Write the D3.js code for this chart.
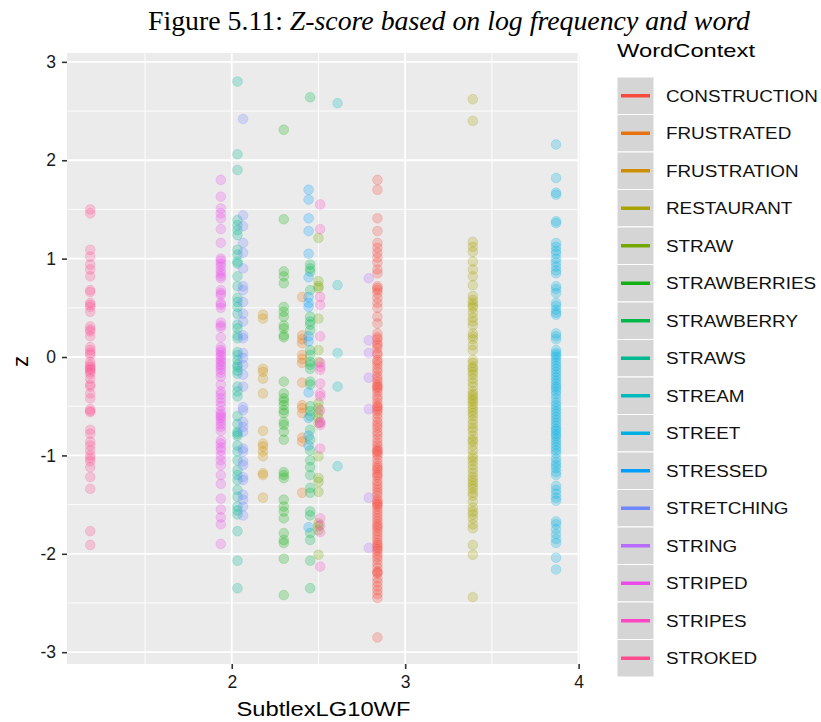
<!DOCTYPE html>
<html>
<head>
<meta charset="utf-8">
<script src="https://cdn.jsdelivr.net/npm/d3@7"></script>
<style>
  html, body { margin: 0; padding: 0; background: #ffffff; }
  svg { display: block; }
</style>
</head>
<body>
<svg id="chart" width="821" height="722"></svg>
<script>
// Word categories, in legend order, with their log10 frequency (x position)
const words = ["CONSTRUCTION","FRUSTRATED","FRUSTRATION","RESTAURANT","STRAW","STRAWBERRIES",
  "STRAWBERRY","STRAWS","STREAM","STREET","STRESSED","STRETCHING","STRING","STRIPED","STRIPES","STROKED"];
const wordFreq = [2.84, 2.406, 2.18, 3.39, 2.50, 2.30, 2.452, 2.033, 2.61, 3.87, 2.443, 2.065, 2.79, 1.937, 2.51, 1.184];
const wordColors = ["#F8493D","#E8720C","#CF8E00","#A8A300","#74A800","#12B012","#00B84A","#00B98F",
  "#00BABD","#00B0E4","#009EFF","#6E86FF","#B76BFF","#EC4BEC","#FF47C4","#FF4A8E"];

// z-scores per word
const zConstruction = [1.80,1.70,1.41,1.28,1.16,1.11,1.06,1.01,0.96,0.89,0.85,0.72,0.70,0.68,0.65,0.60,0.55,0.50,
  0.41,0.34,0.24,0.20,0.18,0.14,0.12,0.09,0.04,0.02,-0.03,-0.05,-0.08,-0.12,-0.15,-0.19,-0.22,-0.25,-0.28,-0.30,
  -0.31,-0.33,-0.36,-0.40,-0.43,-0.47,-0.50,-0.51,-0.53,-0.55,-0.58,-0.62,-0.66,-0.69,-0.72,-0.76,-0.79,-0.83,
  -0.87,-0.90,-0.93,-0.95,-0.96,-0.98,-1.00,-1.04,-1.08,-1.11,-1.13,-1.15,-1.18,-1.20,-1.22,-1.26,-1.29,-1.32,
  -1.35,-1.38,-1.41,-1.45,-1.47,-1.49,-1.50,-1.52,-1.55,-1.58,-1.61,-1.64,-1.67,-1.70,-1.72,-1.74,-1.77,-1.80,
  -1.83,-1.86,-1.89,-1.91,-1.93,-1.95,-1.97,-2.00,-2.03,-2.06,-2.10,-2.14,-2.18,-2.19,-2.20,-2.25,-2.29,-2.33,
  -2.37,-2.41,-2.45,-2.85];
const zFrustrated = [0.61,0.22,0.18,0.14,0.02,-0.02,-0.06,-0.26,-0.49,-0.52,-0.57,-0.82,-0.86,-1.38];
const zFrustration = [0.43,0.39,-0.12,-0.15,-0.22,-0.37,-0.75,-0.88,-0.91,-0.96,-1.01,-1.18,-1.20,-1.43];
const zRestaurant = [2.62,2.40,1.17,1.12,1.07,0.97,0.89,0.82,0.73,0.62,0.58,0.55,0.52,0.50,0.45,0.40,0.36,0.32,
  0.24,0.21,0.18,0.12,0.07,-0.03,-0.06,-0.10,-0.12,-0.15,-0.18,-0.22,-0.26,-0.30,-0.35,-0.38,-0.40,-0.43,-0.45,
  -0.48,-0.51,-0.54,-0.57,-0.60,-0.64,-0.68,-0.72,-0.75,-0.80,-0.84,-0.86,-0.90,-0.95,-1.00,-1.03,-1.06,-1.10,
  -1.14,-1.18,-1.22,-1.25,-1.28,-1.31,-1.34,-1.38,-1.41,-1.47,-1.53,-1.57,-1.60,-1.64,-1.70,-1.74,-1.91,-2.01,-2.44];
const zStraw = [1.21,0.77,0.72,0.70,0.39,0.07,-0.05,-0.47,-0.52,-0.57,-0.62,-0.67,-1.01,-1.23,-1.27,-1.37,-1.69,
  -1.72,-1.76,-2.01];
const zStrawberries = [2.31,1.40,0.87,0.82,0.75,0.51,0.46,0.41,0.32,0.29,0.22,0.20,-0.25,-0.37,-0.42,-0.45,-0.49,
  -0.54,-0.57,-0.66,-0.69,-0.76,-0.84,-1.17,-1.20,-1.23,-1.45,-1.52,-1.57,-1.64,-1.79,-1.86,-1.89,-2.05,-2.42];
const zStrawberry = [2.64,0.94,0.90,0.87,0.68,0.41,0.36,0.33,0.27,0.07,0.02,-0.05,-0.08,-0.12,-0.25,-0.28,-0.50,
  -0.55,-0.60,-0.74,-0.84,-0.95,-1.05,-1.12,-1.20,-1.33,-1.38,-1.57,-1.61,-1.79,-1.86,-2.07,-2.35];
const zStraws = [2.80,2.06,1.90,1.39,1.34,1.29,1.24,1.09,1.04,0.97,0.95,0.82,0.72,0.60,0.56,0.51,0.44,0.33,0.29,
  0.22,0.19,0.05,0.02,-0.03,-0.08,-0.10,-0.14,-0.17,-0.30,-0.35,-0.40,-0.60,-0.68,-0.76,-0.78,-0.80,-0.90,-0.96,
  -1.05,-1.15,-1.20,-1.25,-1.35,-1.42,-1.52,-1.56,-1.60,-1.77,-2.07,-2.35];
const zStream = [2.58,0.73,0.04,-0.30,-1.11];
const zStreet = [2.16,1.82,1.67,1.65,1.38,1.36,1.16,1.12,1.08,1.05,1.00,0.96,0.92,0.88,0.85,0.72,0.69,0.65,0.55,
  0.52,0.48,0.45,0.43,0.24,0.21,0.18,0.07,0.04,0.02,0.00,-0.03,-0.06,-0.09,-0.12,-0.15,-0.18,-0.21,-0.24,-0.27,
  -0.30,-0.32,-0.35,-0.38,-0.42,-0.46,-0.49,-0.52,-0.55,-0.58,-0.61,-0.64,-0.67,-0.70,-0.73,-0.75,-0.78,-0.80,
  -0.83,-0.86,-0.89,-0.92,-0.95,-0.98,-1.03,-1.07,-1.10,-1.13,-1.17,-1.20,-1.31,-1.35,-1.39,-1.43,-1.46,-1.67,
  -1.70,-1.75,-1.80,-1.85,-1.89,-2.04,-2.16];
const zStressed = [1.70,1.60,1.41,1.28,1.05,0.81,0.61,0.55,0.51,0.21,0.16,-0.36,-0.62,-0.80,-0.90,-1.73];
const zStretching = [2.42,1.44,1.33,1.16,1.06,0.90,0.72,0.68,0.56,0.44,0.36,0.22,0.19,0.04,-0.01,-0.08,-0.18,
  -0.30,-0.51,-0.54,-0.66,-0.71,-0.76,-0.93,-0.96,-1.06,-1.10,-1.22,-1.25,-1.40,-1.45,-1.52,-1.61];
const zString = [0.80,0.17,0.04,-0.21,-0.53,-1.43,-1.94];
const zStriped = [1.80,1.63,1.51,1.46,1.41,1.30,1.16,1.00,0.98,0.95,0.92,0.88,0.85,0.82,0.80,0.68,0.65,0.63,0.55,
  0.53,0.50,0.35,0.32,0.30,0.20,0.10,0.07,0.05,0.02,0.00,-0.03,-0.05,-0.08,-0.10,-0.13,-0.16,-0.20,-0.28,-0.35,
  -0.38,-0.42,-0.46,-0.50,-0.55,-0.58,-0.60,-0.62,-0.65,-0.68,-0.71,-0.75,-0.85,-0.88,-0.92,-0.95,-1.00,-1.05,
  -1.10,-1.20,-1.29,-1.44,-1.55,-1.63,-1.70,-1.90];
const zStripes = [1.55,1.30,0.61,0.53,0.21,-0.06,-0.10,-0.13,-0.27,-0.37,-0.40,-0.54,-0.66,-0.67,-0.69,-0.93,
  -1.64,-1.71,-1.78,-2.13];
const zStroked = [1.50,1.46,1.09,1.02,0.94,0.89,0.82,0.68,0.66,0.55,0.53,0.51,0.46,0.31,0.28,0.26,0.21,0.10,0.07,
  0.04,0.02,-0.05,-0.08,-0.10,-0.12,-0.13,-0.15,-0.17,-0.22,-0.28,-0.30,-0.37,-0.42,-0.53,-0.55,-0.56,-0.74,-0.78,
  -0.86,-0.90,-0.95,-1.00,-1.03,-1.06,-1.12,-1.22,-1.34,-1.77,-1.91];

const zByWord = [zConstruction, zFrustrated, zFrustration, zRestaurant, zStraw, zStrawberries, zStrawberry,
  zStraws, zStream, zStreet, zStressed, zStretching, zString, zStriped, zStripes, zStroked];

const xTicks = [2, 3, 4];
const yTicks = [-3, -2, -1, 0, 1, 2, 3];

const titlePrefix = "Figure 5.11: ";
const titleText = "Z-score based on log frequency and word";
const xTitle = "SubtlexLG10WF";
const yTitle = "z";
const legendTitle = "WordContext";

// ---- layout ----
const svg = d3.select("#chart");
const panel = { left: 67, right: 580, top: 53, bottom: 664 };
const sans = "'Liberation Sans', Arial, Helvetica, sans-serif";

const x = d3.scaleLinear().domain([1.05, 4.008]).range([panel.left, panel.right]);
const y = d3.scaleLinear().domain([-3.12, 3.09]).range([panel.bottom, panel.top]);

// plain hyphen for negative tick labels
const tickFmt = d => String(d);

// title: upright figure number followed by italic caption
const title = svg.append("text")
  .attr("x", 148).attr("y", 29.5)
  .attr("font-family", "'Liberation Serif', 'Times New Roman', serif")
  .attr("font-size", 27.5)
  .attr("fill", "#000")
  .attr("textLength", 602).attr("lengthAdjust", "spacingAndGlyphs")
  .attr("xml:space", "preserve");
title.append("tspan").text(titlePrefix);
title.append("tspan").attr("font-style", "italic").text(titleText);

// panel background
svg.append("rect")
  .attr("x", panel.left).attr("y", panel.top)
  .attr("width", panel.right - panel.left).attr("height", panel.bottom - panel.top)
  .attr("fill", "#EBEBEB");

const grid = svg.append("g");
// minor grid
const xMinor = [1.5, 2.5, 3.5];
const yMinor = [-2.5, -1.5, -0.5, 0.5, 1.5, 2.5];
grid.selectAll("line.xminor").data(xMinor).join("line")
  .attr("x1", d => x(d)).attr("x2", d => x(d))
  .attr("y1", panel.top).attr("y2", panel.bottom)
  .attr("stroke", "#fff").attr("stroke-width", 0.9);
grid.selectAll("line.yminor").data(yMinor).join("line")
  .attr("y1", d => y(d)).attr("y2", d => y(d))
  .attr("x1", panel.left).attr("x2", panel.right)
  .attr("stroke", "#fff").attr("stroke-width", 0.9);
// major grid
grid.selectAll("line.xmajor").data(xTicks).join("line")
  .attr("x1", d => x(d)).attr("x2", d => x(d))
  .attr("y1", panel.top).attr("y2", panel.bottom)
  .attr("stroke", "#fff").attr("stroke-width", 1.8);
grid.selectAll("line.ymajor").data(yTicks).join("line")
  .attr("y1", d => y(d)).attr("y2", d => y(d))
  .attr("x1", panel.left).attr("x2", panel.right)
  .attr("stroke", "#fff").attr("stroke-width", 1.8);

// points
const points = [];
words.forEach((w, i) => zByWord[i].forEach(z => points.push({ word: w, i, x: wordFreq[i], z })));
svg.append("g").selectAll("circle").data(points).join("circle")
  .attr("cx", d => x(d.x))
  .attr("cy", d => y(d.z))
  .attr("r", 4.9)
  .attr("fill", d => wordColors[d.i])
  .attr("fill-opacity", 0.25)
  .attr("stroke", d => wordColors[d.i])
  .attr("stroke-opacity", 0.18)
  .attr("stroke-width", 1);

// axes
const yAxis = d3.axisLeft(y).tickValues(yTicks).tickSize(5).tickPadding(6).tickFormat(tickFmt);
const gy = svg.append("g").attr("transform", `translate(${panel.left},0)`).call(yAxis);
const xAxis = d3.axisBottom(x).tickValues(xTicks).tickSize(5).tickPadding(7).tickFormat(tickFmt);
const gx = svg.append("g").attr("transform", `translate(0,${panel.bottom})`).call(xAxis);
[gx, gy].forEach(g => {
  g.select(".domain").remove();
  g.selectAll(".tick line").attr("stroke", "#333").attr("stroke-width", 1.6);
  g.selectAll(".tick text").attr("fill", "#1a1a1a").attr("font-size", 17.5).attr("font-family", sans);
});

// axis titles
svg.append("text")
  .attr("x", (panel.left + panel.right) / 2).attr("y", 716)
  .attr("text-anchor", "middle")
  .attr("font-family", sans).attr("font-size", 20.5)
  .attr("textLength", 174).attr("lengthAdjust", "spacingAndGlyphs")
  .text(xTitle);
svg.append("text")
  .attr("transform", `translate(28,${(panel.top + panel.bottom) / 2 + 3}) rotate(-90)`)
  .attr("text-anchor", "middle")
  .attr("font-family", sans).attr("font-size", 22)
  .text(yTitle);

// legend
const legend = svg.append("g");
legend.append("text")
  .attr("x", 617).attr("y", 57)
  .attr("font-family", sans).attr("font-size", 19)
  .attr("textLength", 138).attr("lengthAdjust", "spacingAndGlyphs")
  .text(legendTitle);
const keyTop = 77, keyH = 37.5, keyX = 617, keyW = 37;
const items = legend.selectAll("g.item").data(words).join("g")
  .attr("transform", (d, i) => `translate(0,${keyTop + i * keyH})`);
items.append("rect")
  .attr("x", keyX).attr("y", 0).attr("width", keyW).attr("height", keyH)
  .attr("fill", "#D5D5D5").attr("stroke", "#fff").attr("stroke-width", 1);
items.append("line")
  .attr("x1", keyX + 4).attr("x2", keyX + keyW - 4)
  .attr("y1", keyH / 2).attr("y2", keyH / 2)
  .attr("stroke", (d, i) => wordColors[i]).attr("stroke-width", 3.5);
items.append("text")
  .attr("transform", `translate(666,${keyH / 2 + 6}) scale(1.11,1)`)
  .attr("font-family", sans).attr("font-size", 17)
  .attr("fill", "#111")
  .text(d => d);
</script>
</body>
</html>
